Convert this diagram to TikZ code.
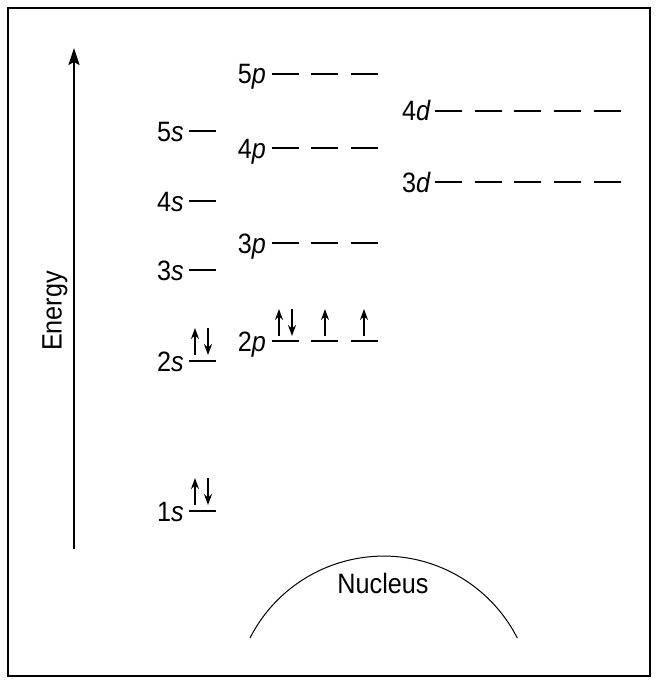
\documentclass[tikz,border=0pt]{standalone}
\usepackage{fontspec}
\setmainfont{Liberation Sans}[FakeStretch=0.9]
\usetikzlibrary{arrows.meta}

\begin{document}
\begin{tikzpicture}[
  x=1pt, y=-1pt,
  font=\fontsize{28}{33}\selectfont,
  lvl/.style={line width=1.5pt},
  spin/.style={-{Stealth[length=11pt,width=8pt]}, line width=2pt},
  axis/.style={-{Stealth[length=17pt,width=11pt,inset=3pt]}, line width=2pt},
  tag/.style={anchor=base east, inner sep=0pt}
]
\useasboundingbox (0,0) rectangle (658,682);
\draw[line width=2pt] (8,8) rectangle (650,676);

% energy axis
\coordinate (elow) at (74,549);
\coordinate (etop) at (74,48);
\draw[axis] (elow) -- (etop);
\node[rotate=90] (energy) at (55,311) {Energy};

% s levels
\foreach \n/\y in {5/131,4/201,3/270,2/361,1/511}{
  \node[tag] (s\n) at (184,\y+10) {\n\textit{s}};
  \draw[lvl] (189,\y) -- ++(27,0);
}

% p levels
\foreach \n/\y in {5/74,4/148,3/243,2/341}{
  \node[tag] (p\n) at (266,\y+10) {\n\textit{p}};
  \foreach \x in {272,311,351} \draw[lvl] (\x,\y) -- ++(27,0);
}

% d levels
\foreach \n/\y in {4/111,3/182}{
  \node[tag] (d\n) at (431,\y+10) {\n\textit{d}};
  \foreach \x in {435,475,514,554,594} \draw[lvl] (\x,\y) -- ++(27,0);
}

% electrons
\draw[spin] (195,505) -- (195,478);
\draw[spin] (208,478) -- (208,505);
\draw[spin] (195,355) -- (195,328);
\draw[spin] (208,328) -- (208,355);
\draw[spin] (279,336) -- (279,309);
\draw[spin] (292,309) -- (292,336);
\draw[spin] (325,336) -- (325,309);
\draw[spin] (364,336) -- (364,309);

% nucleus
\draw[line width=1pt] (250,638) arc[start angle=207, end angle=333, radius=150];
\node (nucleus) at (383,583) {Nucleus};

\end{tikzpicture}
\end{document}
